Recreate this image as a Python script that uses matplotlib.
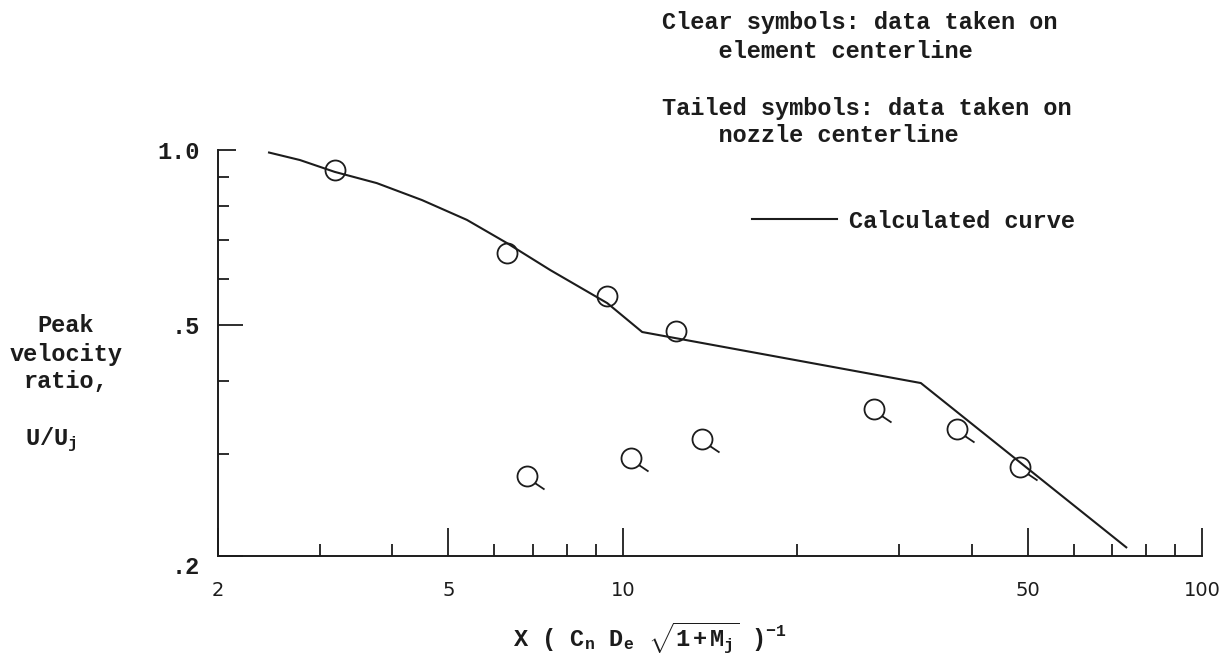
import numpy as np
import matplotlib
matplotlib.use('Agg')
import matplotlib.pyplot as plt
from matplotlib.path import Path
from matplotlib.ticker import FixedLocator, NullFormatter

# Calculated peak velocity ratio curve
curve_x = [2.45, 2.77, 3.18, 3.76, 4.5, 5.38, 6.3, 7.5, 9.4, 10.8, 32.7, 74.0]
curve_y = [0.99, 0.961, 0.917, 0.877, 0.82, 0.758, 0.692, 0.621, 0.545, 0.486, 0.397, 0.207]

# Clear symbols: element centerline
clear_x = [3.18, 6.32, 9.40, 12.37]
clear_y = [0.924, 0.665, 0.561, 0.488]

# Tailed symbols: nozzle centerline
tailed_x = [6.82, 10.35, 13.71, 27.15, 37.75, 48.5]
tailed_y = [0.275, 0.295, 0.318, 0.358, 0.331, 0.285]

x_major = [2, 5, 10, 50, 100]
x_major_labels = ['2', '5', '10', '50', '100']
x_minor = [3, 4, 6, 7, 8, 9, 20, 30, 40, 60, 70, 80, 90]
y_major = [0.2, 0.5, 1.0]
y_major_labels = ['.2', '.5', '1.0']
y_minor = [0.3, 0.4, 0.6, 0.7, 0.8, 0.9]

ink = '#1c1c1c'
plt.rcParams['font.family'] = 'Liberation Mono'
plt.rcParams['font.weight'] = 'bold'
plt.rcParams['mathtext.fontset'] = 'custom'
plt.rcParams['mathtext.rm'] = 'Liberation Mono:bold'
plt.rcParams['mathtext.it'] = 'Liberation Mono:bold'
plt.rcParams['mathtext.bf'] = 'Liberation Mono:bold'
plt.rcParams['text.color'] = ink

W, H = 1228, 654
fig = plt.figure(figsize=(W / 100, H / 100), dpi=100)
ax = fig.add_axes([218 / W, 1 - 556 / H, 984 / W, 406 / H])
ax.set_xscale('log')
ax.set_yscale('log')
ax.set_xlim(2, 100)
ax.set_ylim(0.2, 1.0)

# circle with a short tail to the lower right
tail = Path([(0.75, -0.66), (1.7, -1.3)], [Path.MOVETO, Path.LINETO])
tailed_marker = Path.make_compound_path(Path.unit_circle(), tail)

ax.plot(curve_x, curve_y, color=ink, lw=1.5, label='Calculated curve', clip_on=False)
ax.plot(clear_x, clear_y, ls='none', marker='o', ms=14.4, mfc='none',
        mec=ink, mew=1.3, clip_on=False)
ax.plot(tailed_x, tailed_y, ls='none', marker=tailed_marker, ms=24.5, mfc='none',
        mec=ink, mew=1.3, clip_on=False)

for side in ['top', 'right']:
    ax.spines[side].set_visible(False)
for side in ['left', 'bottom']:
    ax.spines[side].set_linewidth(1.4)
    ax.spines[side].set_color(ink)

ax.set_xticks(x_major)
ax.set_xticklabels(x_major_labels, fontfamily='DejaVu Sans', fontweight='normal', fontsize=14)
ax.xaxis.set_minor_locator(FixedLocator(x_minor))
ax.xaxis.set_minor_formatter(NullFormatter())
ax.set_yticks(y_major)
ax.set_yticklabels(y_major_labels, fontsize=17)
ax.yaxis.set_minor_locator(FixedLocator(y_minor))
ax.yaxis.set_minor_formatter(NullFormatter())

ax.tick_params(axis='x', which='major', direction='in', length=20, width=1.3, pad=18, colors=ink)
ax.tick_params(axis='x', which='minor', direction='in', length=9, width=1.3, colors=ink)
ax.tick_params(axis='y', which='major', direction='in', length=18, width=1.3, pad=13, colors=ink)
ax.tick_params(axis='y', which='minor', direction='in', length=8, width=1.3, colors=ink)

yt = ax.yaxis.get_major_ticks()
yt[2].tick1line.set_markersize(13)
yt[0].label1.set_verticalalignment('top')

ax.legend(loc='center left', bbox_to_anchor=(752 / W, 1 - 221 / H),
          bbox_transform=fig.transFigure, frameon=False, handlelength=3.6,
          handletextpad=0.5, borderpad=0, borderaxespad=0, fontsize=17)

notes = [('Clear symbols: data taken on', 23),
         ('    element centerline', 51),
         ('Tailed symbols: data taken on', 108),
         ('    nozzle centerline', 136)]
for txt, py in notes:
    fig.text(662 / W, 1 - py / H, txt, ha='left', va='center', fontsize=17)

for txt, py in [('Peak', 325), ('velocity', 355), ('ratio,', 382)]:
    fig.text(66 / W, 1 - py / H, txt, ha='center', va='center', fontsize=17)
fig.text(25 / W, 1 - 440 / H, r'U/U$_\mathrm{j}$', ha='left', va='center', fontsize=17)

fig.text(650 / W, 1 - 638 / H,
         r'X ( C$_\mathrm{n}$ D$_\mathrm{e}$ $\sqrt{\mathrm{1+M_j}}$ )$^{-1}$',
         ha='center', va='center', fontsize=17)

fig.savefig('out.png', dpi=100)
